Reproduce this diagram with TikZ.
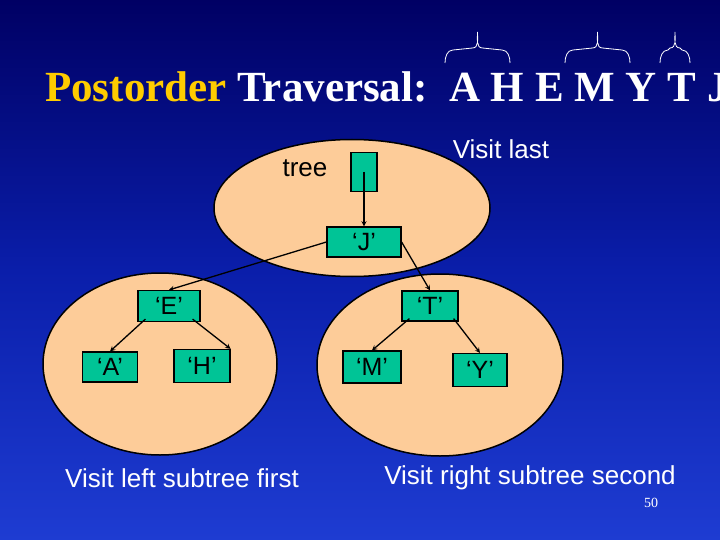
\documentclass[tikz,border=0pt]{standalone}
\usepackage{fontspec}
\setmainfont{Liberation Sans}
\newfontfamily\timesf{Liberation Serif}
\usetikzlibrary{shapes.geometric}
\begin{document}
\begin{tikzpicture}[x=1pt,y=-1pt,
  blob/.style={draw=black,line width=1.5pt,fill=tan},
  box/.style={draw=black,line width=1.2pt,fill=teal1,minimum width=#1,minimum height=30pt,inner sep=0pt,font=\fontsize{25}{27}\selectfont},
  box/.default=56pt,
  arr/.style={->,>=stealth,line width=1.3pt},
  wt/.style={text=white,font=\fontsize{26}{28}\selectfont}]
\definecolor{tan}{RGB}{253,204,153}
\definecolor{teal1}{RGB}{0,196,150}
\definecolor{gold}{RGB}{255,204,0}
\shade[top color={rgb,255:red,0;green,0;blue,100},bottom color={rgb,255:red,30;green,60;blue,210},middle color={rgb,255:red,10;green,30;blue,170}] (0,0) rectangle (720,540);
\useasboundingbox (0,0) rectangle (720,540);
\node[anchor=base west,inner sep=0pt,font=\timesf\bfseries\fontsize{43}{46}\selectfont] (title) at (45,102) {\textcolor{gold}{Postorder} \textcolor{white}{Traversal:\ \ A H E M Y T J}};
\foreach \a/\b in {445/510,565/630,660/690}{
  \pgfmathsetmacro\m{(\a+\b)/2}
  \draw[white,line width=0.8pt] (\a,63) to[out=90,in=180] (\a+8,50) -- (\m-5,48) to[out=0,in=-90] (\m,32) to[out=-90,in=180] (\m+5,48) -- (\b-8,50) to[out=0,in=90] (\b,63);
}
\node[blob,ellipse,minimum width=276pt,minimum height=137pt,inner sep=0pt] (top) at (352,208) {};
\node[blob,ellipse,minimum width=234pt,minimum height=182pt,inner sep=0pt] (left) at (160,364) {};
\node[blob,ellipse,minimum width=246pt,minimum height=182pt,inner sep=0pt] (right) at (440,365) {};
\node[wt,text=black] (treel) at (305,168) {tree};
\node[wt] (vl) at (501,149) {Visit last};
\node[box=26pt,minimum height=39pt] (tb) at (364,172) {};
\node[box=74pt] (J) at (364,242) {‘J’};
\node[box=62pt,minimum height=31pt] (E) at (169,306) {‘E’};
\node[box=56pt] (T) at (430,306) {‘T’};
\node[box=55pt] (A) at (110,367) {‘A’};
\node[box=56pt,minimum height=33pt] (H) at (202,366) {‘H’};
\node[box=58pt,minimum height=32pt] (M) at (372,367) {‘M’};
\node[box=54pt,minimum height=33pt] (Y) at (480,370) {‘Y’};
\draw[arr] (tb.center) -- (J.north);
\draw[arr] (J.west) -- (E.north);
\draw[arr] (J.east) -- (T.north);
\draw[arr] (E.south west) ++(8,-3) coordinate (e1) (e1) -- (A.north);
\draw[arr] (E.south east) ++(-8,-3) coordinate (e2) (e2) -- (H.north east);
\draw[arr] (T.south west) ++(8,-3) coordinate (t1) (t1) -- (M.north);
\draw[arr] (T.south east) ++(-5,-3) coordinate (t2) (t2) -- (Y.north);
\node[wt] (vls) at (182,478) {Visit left subtree first};
\node[wt] (vrs) at (530,478) {Visit right subtree second};
\node[text=white,font=\timesf\fontsize{14}{16}\selectfont] (pg) at (651,503) {50};
\end{tikzpicture}
\end{document}
